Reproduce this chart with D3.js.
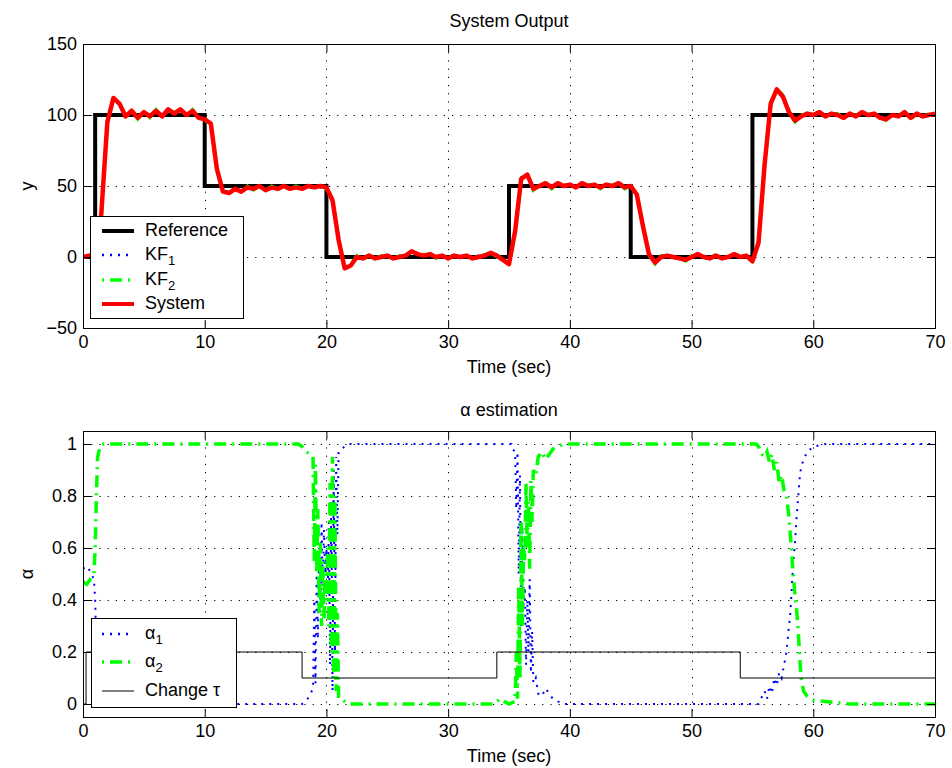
<!DOCTYPE html>
<html><head><meta charset="utf-8">
<script src="https://cdn.jsdelivr.net/npm/d3@7"></script>
<style>body{margin:0;background:#fff}</style>
</head><body>
<svg id="c" width="952" height="768"></svg>
<script>
// ---------- DATA ----------
const xTicks = [0,10,20,30,40,50,60,70];
const topYTicks = [-50,0,50,100,150];
const topYLabels = ["\u221250","0","50","100","150"];
const botYTicks = [0,0.2,0.4,0.6,0.8,1];
const botYLabels = ["0","0.2","0.4","0.6","0.8","1"];

const topT = [0,0.5,1,1.5,2,2.5,3,3.5,4,4.5,5,5.5,6,6.5,7,7.5,8,8.5,9,9.5,
10,10.5,11,11.5,12,12.5,13,13.5,14,14.5,15,15.5,16,16.5,17,17.5,18,18.5,19,19.5,
20,20.5,21,21.5,22,22.5,23,23.5,24,24.5,25,25.5,26,26.5,27,27.5,28,28.5,29,29.5,
30,30.5,31,31.5,32,32.5,33,33.5,34,34.5,35,35.5,36,36.5,37,37.5,38,38.5,39,39.5,
40,40.5,41,41.5,42,42.5,43,43.5,44,44.5,45,45.5,46,46.5,47,47.5,48,48.5,49,49.5,
50,50.5,51,51.5,52,52.5,53,53.5,54,54.5,55,55.5,56,56.5,57,57.5,58,58.5,59,59.5,
60,60.5,61,61.5,62,62.5,63,63.5,64,64.5,65,65.5,66,66.5,67,67.5,68,68.5,69,69.5,70];

const systemY = [0,1,0,30,95,112,108,99,103,98,
102,99,103,99,104,101,104,100,103,98,
97,94,62,46,45,48,46,49,48,50,
47,49,48,50,48,49,48,50,49,50,
49,40,12,-8,-6,0,-1,1,-1,0,
1,-1,0,1,4,2,1,2,0,1,
-1,1,0,1,-1,0,1,3,1,-2,
-5,18,55,58,48,50,52,49,52,50,
51,49,52,50,51,49,51,50,52,49,
50,44,22,2,-4,0,1,0,-1,-2,
0,2,0,-1,1,-1,0,2,0,1,
-3,10,65,108,118,113,102,96,99,101,
100,102,99,101,100,98,101,99,102,100,
101,98,97,100,99,102,98,101,99,100,101];

const kf1Y = [0,0,1,32,96,111,107,100,102,99,
101,100,102,100,103,101,103,101,102,99,
98,93,60,47,46,48,47,49,48,49,
48,49,49,50,48,50,49,50,49,49,
50,41,14,-7,-5,0,0,1,-1,0,
1,0,0,1,3,2,1,1,0,1,
0,1,0,1,-1,1,1,2,1,-1,
-4,20,56,57,49,50,51,50,51,50,
51,50,51,50,51,50,51,50,51,50,
50,45,24,3,-3,0,1,0,-1,-1,
0,1,0,-1,1,0,0,1,0,1,
-2,12,67,109,117,112,101,97,99,101,
100,101,99,101,100,99,100,99,101,100,
101,99,98,100,99,101,99,100,99,100,100];

const kf2Y = [0,1,0,28,94,112,109,98,103,97,
102,98,104,99,103,102,104,99,104,98,
96,94,63,45,46,47,46,50,47,50,
47,50,48,49,48,50,48,49,49,50,
48,39,11,-9,-5,1,-2,1,-1,1,
0,-1,1,1,4,1,2,2,-1,1,
-1,2,0,1,-1,0,2,3,0,-2,
-6,17,54,59,47,51,52,48,52,51,
50,49,52,51,51,48,51,51,52,48,
50,43,21,1,-5,1,1,-1,-1,-3,
1,2,-1,-1,2,-1,0,2,1,1,
-3,9,64,107,119,114,103,95,100,102,
100,102,98,101,101,98,101,100,102,99,
101,98,96,100,100,102,97,101,99,101,101];

const refT = [0,1,10,20,35,45,55,70];
const refY = [0,100,50,0,50,0,100,100];

const tauT = [0,0.25,18,34,54,70];
const tauY = [0,0.2,0.1,0.2,0.1,0.1];

const alpha1 = [[0,0.52],[0.3,0.53],[0.6,0.51],[0.9,0.48],[1.0,0.4],[1.1,0.2],[1.2,0.05],[1.4,0.01],[1.7,0],
[18.0,0],[18.3,0.01],[18.6,0.03],[18.9,0.06],[19.0,0.4],[19.1,0.08],[19.2,0.5],[19.3,0.25],[19.4,0.6],[19.5,0.38],
[19.6,0.7],[19.7,0.45],[19.8,0.67],[19.9,0.5],[20.0,0.6],[20.1,0.4],[20.2,0.7],[20.3,0.15],[20.4,0.8],[20.5,0.05],
[20.6,0.9],[20.7,0.2],[20.8,0.95],[20.9,0.65],[21.0,0.97],[21.2,0.98],[21.5,0.99],[21.8,1.0],
[35.2,1.0],[35.3,0.98],[35.5,0.97],[35.6,0.75],[35.7,0.97],[35.8,0.5],[35.9,0.88],[36.0,0.3],[36.1,0.68],[36.2,0.38],
[36.3,0.45],[36.4,0.15],[36.5,0.4],[36.6,0.2],[36.7,0.48],[36.8,0.12],[36.9,0.28],[37.0,0.08],[37.2,0.1],[37.4,0.04],
[37.7,0.03],[38.0,0.06],[38.3,0.04],[38.6,0.02],[39.0,0.01],[39.5,0],
[55.5,0],[55.8,0.03],[56.0,0.05],[56.2,0.02],[56.4,0.07],[56.6,0.04],[56.8,0.1],[57.0,0.07],[57.2,0.12],[57.4,0.1],
[57.6,0.15],[57.8,0.2],[58.0,0.3],[58.1,0.34],[58.2,0.42],[58.3,0.5],[58.4,0.57],[58.5,0.62],[58.6,0.7],[58.7,0.76],
[58.8,0.82],[58.9,0.88],[59.0,0.91],[59.2,0.94],[59.5,0.97],[60.0,0.99],[61.0,1.0],[70,1.0]];

const alpha2 = [[0,0.47],[0.3,0.46],[0.6,0.48],[0.9,0.5],[1.0,0.6],[1.1,0.8],[1.2,0.95],[1.4,0.99],[1.7,1.0],
[17.7,1.0],[18.0,0.99],[18.2,0.975],[18.5,0.965],[18.9,0.95],[19.0,0.55],[19.1,0.92],[19.2,0.5],[19.3,0.75],[19.4,0.35],
[19.5,0.62],[19.6,0.3],[19.7,0.55],[19.8,0.33],[19.9,0.5],[20.0,0.4],[20.1,0.6],[20.2,0.3],[20.3,0.85],[20.4,0.2],
[20.5,0.95],[20.6,0.1],[20.7,0.8],[20.8,0.05],[20.9,0.35],[21.0,0.03],[21.2,0.03],[21.5,0.01],[21.8,0],
[33.8,0],[34.0,0.01],[34.3,0.02],[34.6,0.01],[35.0,0],[35.5,0.01],[35.6,0.2],[35.7,0.02],[35.8,0.45],[35.9,0.1],
[36.0,0.7],[36.1,0.3],[36.2,0.6],[36.3,0.55],[36.4,0.85],[36.5,0.6],[36.6,0.78],[36.7,0.52],[36.8,0.86],[36.9,0.7],
[37.0,0.9],[37.2,0.88],[37.4,0.95],[37.7,0.97],[38.0,0.94],[38.3,0.96],[38.6,0.98],[39.0,0.99],[39.5,1.0],
[55.3,1.0],[55.5,0.99],[55.8,0.96],[56.0,0.95],[56.2,0.97],[56.4,0.93],[56.6,0.96],[56.8,0.9],[57.0,0.93],[57.2,0.85],
[57.4,0.88],[57.6,0.82],[57.8,0.8],[58.0,0.72],[58.1,0.66],[58.2,0.6],[58.3,0.53],[58.4,0.47],[58.5,0.42],[58.6,0.38],
[58.7,0.32],[58.8,0.25],[58.9,0.17],[59.0,0.1],[59.2,0.05],[59.5,0.03],[60.0,0.015],[61,0.01],[62,0.005],[63,0],[70,0]];

// ---------- DRAWING ----------
const FONT = "'Liberation Sans', Arial, Helvetica, sans-serif";
const FS = 18;
const svg = d3.select("#c");
svg.append("rect").attr("width",952).attr("height",768).attr("fill","#fff");

const x = d3.scaleLinear().domain([0,70]).range([83,935]);
const yTop = d3.scaleLinear().domain([-50,150]).range([328,44]);
const yBot = d3.scaleLinear().domain([-0.05,1.05]).range([717,431]);

function panel(id, y, yTicks, yLabels, title, ylab, titleOff) {
  const g = svg.append("g");
  const [b, t] = y.range();
  svg.append("clipPath").attr("id", id).append("rect")
    .attr("x", 83).attr("y", t).attr("width", 852).attr("height", b - t);
  const grid = g.append("g").attr("stroke","#000").attr("stroke-width",1).attr("stroke-dasharray","1.2,7");
  xTicks.filter(v => v > 0 && v < 70).forEach(v => {
    grid.append("line").attr("x1", Math.round(x(v))+0.5).attr("x2", Math.round(x(v))+0.5).attr("y1", t).attr("y2", b);
  });
  yTicks.filter(v => y(v) > t + 1 && y(v) < b - 1).forEach(v => {
    grid.append("line").attr("x1", 83).attr("x2", 935).attr("y1", Math.round(y(v))+0.5).attr("y2", Math.round(y(v))+0.5);
  });
  const data = g.append("g").attr("clip-path", `url(#${id})`);
  const ax = g.append("g");
  ax.append("g").attr("transform", `translate(0,${b})`)
    .call(d3.axisBottom(x).tickValues(xTicks).tickFormat(d => String(d)).tickSizeInner(-8).tickSizeOuter(0).tickPadding(7));
  ax.append("g").attr("transform", `translate(0,${t})`)
    .call(d3.axisTop(x).tickValues(xTicks).tickFormat("").tickSizeInner(-8).tickSizeOuter(0));
  ax.append("g").attr("transform", `translate(83,0)`)
    .call(d3.axisLeft(y).tickValues(yTicks).tickFormat((d,i) => yLabels[i]).tickSizeInner(-8).tickSizeOuter(0).tickPadding(6));
  ax.append("g").attr("transform", `translate(935,0)`)
    .call(d3.axisRight(y).tickValues(yTicks).tickFormat("").tickSizeInner(-8).tickSizeOuter(0));
  ax.selectAll(".domain").remove();
  ax.selectAll(".tick line").attr("stroke","#000");
  ax.selectAll("g").attr("font-family", FONT).attr("font-size", FS);
  ax.selectAll("text").attr("fill","#000");
  g.append("rect").attr("x", 83.5).attr("y", t + 0.5).attr("width", 852).attr("height", b - t)
    .attr("fill","none").attr("stroke","#000").attr("stroke-width",1);
  g.append("text").attr("x", 509).attr("y", t - titleOff).attr("text-anchor","middle")
    .attr("font-family", FONT).attr("font-size", FS).text(title);
  g.append("text").attr("x", 509).attr("y", b + 45).attr("text-anchor","middle")
    .attr("font-family", FONT).attr("font-size", FS).text("Time (sec)");
  g.append("text").attr("transform", `translate(33,${(t+b)/2}) rotate(-90)`).attr("text-anchor","middle")
    .attr("font-family", FONT).attr("font-size", FS).text(ylab);
  return {g, data};
}

// ---- Top panel ----
const P1 = panel("clipTop", yTop, topYTicks, topYLabels, "System Output", "y", 17);
const lineTop = (ys) => d3.line().x((d,i) => x(topT[i])).y((d,i) => yTop(ys[i]));
P1.data.append("path").datum(refT)
  .attr("d", d3.line().curve(d3.curveStepAfter).x(d => x(d)).y((d,i) => yTop(refY[i])))
  .attr("fill","none").attr("stroke","#000").attr("stroke-width",4);
P1.data.append("path").datum(kf1Y).attr("d", lineTop(kf1Y))
  .attr("fill","none").attr("stroke","#0000ff").attr("stroke-width",2.5).attr("stroke-dasharray","2,5");
P1.data.append("path").datum(kf2Y).attr("d", lineTop(kf2Y))
  .attr("fill","none").attr("stroke","#00ff00").attr("stroke-width",3).attr("stroke-dasharray","12,6,2,6");
P1.data.append("path").datum(systemY).attr("d", lineTop(systemY))
  .attr("fill","none").attr("stroke","#ff0000").attr("stroke-width",4.5).attr("stroke-linejoin","round");

// ---- Bottom panel ----
const P2 = panel("clipBot", yBot, botYTicks, botYLabels, "\u03b1 estimation", "\u03b1", 15);
const lineA = d3.line().x(d => x(d[0])).y(d => yBot(d[1]));
P2.data.append("path").datum(alpha1).attr("d", lineA)
  .attr("fill","none").attr("stroke","#0000ff").attr("stroke-width",2).attr("stroke-dasharray","2,6");
P2.data.append("path").datum(alpha2).attr("d", lineA)
  .attr("fill","none").attr("stroke","#00ff00").attr("stroke-width",3.5).attr("stroke-dasharray","12,6,2,6");
P2.data.append("path").datum(tauT)
  .attr("d", d3.line().curve(d3.curveStepAfter).x(d => x(d)).y((d,i) => yBot(tauY[i])))
  .attr("fill","none").attr("stroke","#000").attr("stroke-width",1);

// ---- Legends ----
function legend(box, items) {
  const g = svg.append("g");
  g.append("rect").attr("x", box[0]+0.5).attr("y", box[1]+0.5).attr("width", box[2]).attr("height", box[3])
    .attr("fill","#fff").attr("stroke","#000").attr("stroke-width",1);
  items.forEach(it => {
    g.append("line").attr("x1",102).attr("x2",134).attr("y1",it.y).attr("y2",it.y)
      .attr("stroke",it.color).attr("stroke-width",it.w).attr("stroke-dasharray",it.dash || null);
    const tx = g.append("text").attr("x",145).attr("y",it.y+5).attr("font-family",FONT).attr("font-size",FS);
    tx.append("tspan").text(it.label);
    if (it.sub) tx.append("tspan").attr("dy",5).attr("font-size",13).text(it.sub);
  });
}
legend([90,216,153,102], [
  {y:231, color:"#000", w:4, label:"Reference"},
  {y:255, color:"#0000ff", w:2.5, dash:"2,6", label:"KF", sub:"1"},
  {y:280, color:"#00ff00", w:3.5, dash:"2,6,12,6", label:"KF", sub:"2"},
  {y:304, color:"#ff0000", w:4, label:"System"}
]);
legend([91,618,145,89], [
  {y:634, color:"#0000ff", w:2.5, dash:"2,6", label:"\u03b1", sub:"1"},
  {y:662, color:"#00ff00", w:3.5, dash:"2,6,12,6", label:"\u03b1", sub:"2"},
  {y:691, color:"#000", w:1, label:"Change \u03c4"}
]);
</script>
</body></html>
